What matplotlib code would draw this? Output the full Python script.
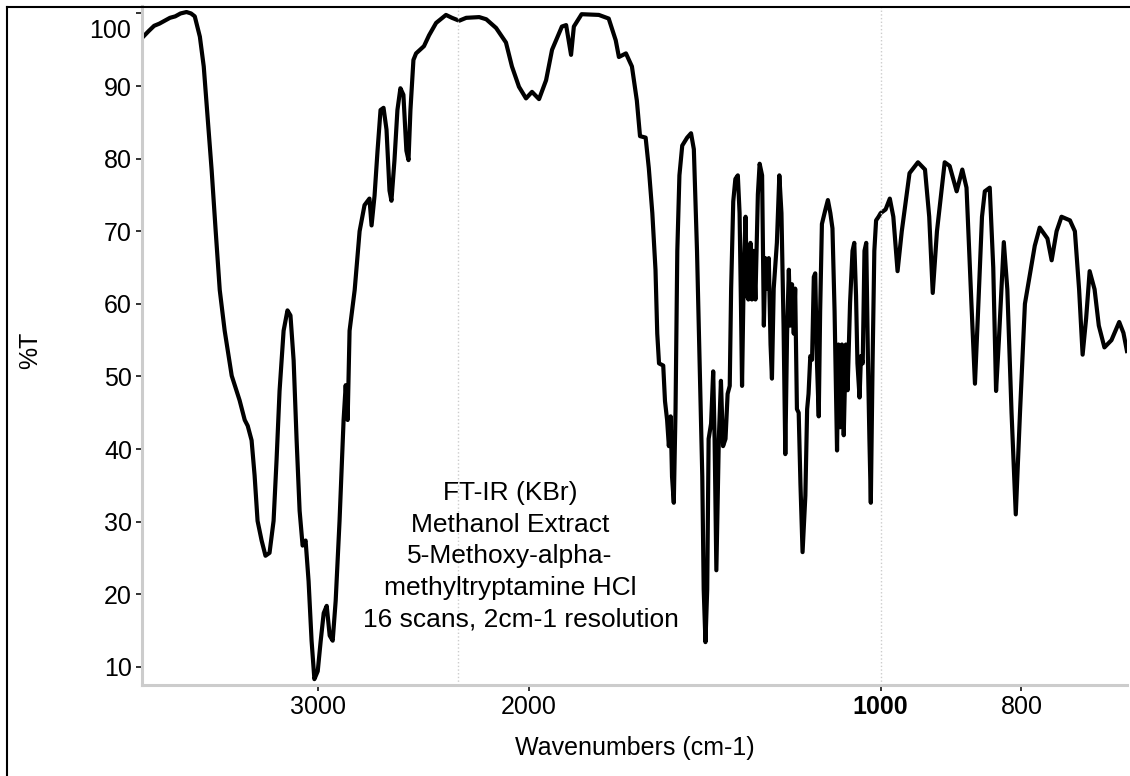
import numpy as np
import matplotlib.pyplot as plt
from matplotlib.lines import Line2D

plt.rcParams['font.family'] = ['Liberation Sans', 'DejaVu Sans']

# spectrum as (cm-1, %T) pairs, one list per axis segment
high_region = [
    (3992, 96.8), (3960, 97.6), (3930, 98.3), (3900, 98.6), (3870, 99.0), (3840, 99.4),
    (3810, 99.6), (3780, 100.0), (3746, 100.2), (3720, 100.0), (3699, 99.6), (3670, 96.8),
    (3648, 92.7), (3625, 85.3), (3603, 78.4), (3580, 70.0), (3557, 61.9), (3529, 56.3),
    (3489, 50.1), (3444, 46.7), (3415, 44.0), (3398, 43.2), (3376, 41.2), (3359, 36.4),
    (3342, 30.1), (3319, 27.4), (3297, 25.3), (3274, 25.7), (3251, 30.1), (3234, 38.5),
    (3217, 48.0), (3194, 56.3), (3172, 59.1), (3155, 58.4), (3137, 52.2), (3120, 41.2),
    (3103, 31.5), (3086, 26.7), (3069, 27.4), (3052, 21.8), (3035, 13.6), (3019, 8.3),
    (3000, 9.4), (2983, 13.6), (2966, 17.4), (2949, 18.4), (2932, 14.3), (2915, 13.6),
    (2898, 19.1), (2876, 30.1), (2853, 44.0), (2841, 48.8), (2830, 44.0), (2819, 56.3),
    (2790, 61.9), (2762, 70.0), (2734, 73.6), (2706, 74.5), (2694, 70.8), (2677, 74.9),
    (2660, 81.1), (2643, 86.7), (2626, 87.0), (2609, 84.0), (2592, 75.6), (2581, 74.2),
    (2564, 79.7), (2547, 86.7), (2530, 89.7), (2513, 88.8), (2496, 81.1), (2484, 79.8),
    (2473, 86.7), (2456, 93.6), (2441, 94.5), (2396, 95.5), (2367, 97.0), (2327, 98.7),
    (2271, 99.8), (2237, 99.4),
]
mid_region = [
    (2198, 99.0), (2178, 99.4), (2141, 99.5), (2121, 99.2), (2093, 98.0), (2065, 96.0),
    (2048, 92.7), (2028, 89.9), (2008, 88.3), (1991, 89.2), (1971, 88.2), (1951, 90.8),
    (1934, 95.0), (1906, 98.2), (1894, 98.4), (1880, 94.3), (1872, 98.2), (1850, 99.9),
    (1801, 99.8), (1773, 99.3), (1753, 96.3), (1744, 94.0), (1724, 94.5), (1707, 92.7),
    (1693, 88.0), (1684, 83.1), (1668, 82.9), (1659, 78.7), (1649, 72.5), (1640, 64.7),
    (1635, 55.9), (1630, 51.8), (1618, 51.5), (1613, 46.6), (1607, 44.0), (1602, 40.4),
    (1597, 44.5), (1593, 36.2), (1588, 32.6), (1583, 45.5), (1578, 67.3), (1572, 77.7),
    (1564, 81.8), (1550, 82.9), (1539, 83.5), (1531, 81.3), (1522, 67.3), (1512, 46.6),
    (1507, 36.2), (1503, 20.7), (1498, 13.4), (1493, 20.7), (1489, 41.4), (1482, 43.5),
    (1476, 50.7), (1472, 41.4), (1467, 23.3), (1460, 41.4), (1454, 49.4), (1448, 40.4),
    (1441, 41.4), (1435, 47.6), (1429, 48.7), (1425, 62.1), (1419, 74.1), (1413, 77.2),
    (1406, 77.7), (1401, 72.5), (1397, 59.5), (1394, 48.7), (1389, 64.7), (1384, 72.0),
    (1380, 61.1), (1376, 60.6), (1370, 68.4), (1366, 60.6), (1361, 67.3), (1356, 60.6),
    (1349, 75.1), (1344, 79.3), (1337, 77.7), (1332, 57.0), (1328, 66.3), (1323, 62.1),
    (1318, 66.3), (1313, 54.4), (1309, 49.7), (1304, 62.1), (1295, 68.4), (1288, 77.7),
    (1282, 72.5), (1276, 57.0), (1271, 39.3), (1266, 55.9), (1261, 64.7), (1257, 57.0),
    (1252, 62.7), (1247, 55.9), (1243, 62.1), (1238, 45.5), (1233, 45.0), (1228, 35.2),
    (1222, 25.8), (1214, 33.6), (1209, 45.5), (1205, 47.6), (1200, 52.8), (1195, 52.3),
    (1190, 63.7), (1186, 64.2), (1181, 51.8), (1176, 44.5), (1172, 59.0), (1167, 71.0),
    (1157, 73.0), (1150, 74.3), (1143, 72.5), (1137, 70.4), (1131, 59.0), (1124, 39.8),
    (1120, 54.4), (1115, 43.0), (1110, 54.4), (1105, 41.9), (1099, 54.4), (1094, 48.1),
    (1087, 60.1), (1080, 67.3), (1075, 68.4), (1070, 61.1), (1066, 51.8), (1060, 47.1),
    (1056, 52.8), (1051, 51.8), (1046, 67.3), (1041, 68.4), (1036, 51.8), (1032, 41.4),
    (1028, 32.6), (1023, 51.8), (1018, 67.3), (1013, 71.5), (1006, 72.0),
]
low_region = [
    (1000, 72.5), (993, 73.0), (987, 74.5), (982, 72.0), (976, 64.5), (970, 70.0),
    (959, 78.0), (947, 79.5), (937, 78.5), (931, 72.0), (926, 61.5), (920, 70.0),
    (909, 79.5), (902, 79.0), (892, 75.5), (884, 78.5), (878, 76.0), (871, 60.0),
    (866, 49.0), (862, 58.0), (856, 72.0), (852, 75.5), (845, 76.0), (840, 65.0),
    (836, 48.0), (832, 55.0), (825, 68.5), (820, 62.0), (814, 45.0), (808, 31.0),
    (802, 45.0), (795, 60.0), (781, 68.0), (774, 70.5), (763, 69.0), (757, 66.0),
    (750, 70.0), (743, 72.0), (731, 71.5), (724, 70.0), (718, 62.0), (713, 53.0),
    (708, 58.0), (703, 64.5), (696, 62.0), (690, 57.0), (682, 54.0), (672, 55.0),
    (661, 57.5), (655, 56.0), (650, 53.5),
]

major_ticks = [3000, 2000, 1000, 800]
major_labels = ['3000', '2000', '1000', '800']
minor_ticks = [3750, 3500, 3250, 2750, 2500, 2250, 1750, 1500, 1250,
               960, 920, 880, 840, 760, 720, 680]
y_ticks = [10, 20, 30, 40, 50, 60, 70, 80, 90, 100]
note_lines = ['FT-IR (KBr)', 'Methanol Extract', '5-Methoxy-alpha-', 'methyltryptamine HCl']
note_last = '16 scans, 2cm-1 resolution'


# x axis: 4000-2200 at 1x, 2200-1000 at 2x, below 1000 at 4x
def fwd(w):
    w = np.asarray(w, dtype=float)
    return np.where(w >= 2200, w, np.where(w >= 1000, 2 * w - 2200, 4 * w - 4200))


def inv(u):
    u = np.asarray(u, dtype=float)
    return np.where(u >= 2200, u, np.where(u >= -200, (u + 2200) / 2, (u + 4200) / 4))


spectrum = np.array(high_region + mid_region + low_region)
wavenumber = spectrum[:, 0]
transmittance = spectrum[:, 1]

fig = plt.figure(figsize=(11.3, 7.76), dpi=100)
ax = fig.add_axes([0.1255, 0.1173, 0.8718, 0.8747])

ax.plot(wavenumber, transmittance, color='black', linewidth=3.0, solid_joinstyle='round')

ax.set_xscale('function', functions=(fwd, inv))
ax.set_xlim(4000, 650)
ax.set_ylim(7.5, 101)

ax.axvline(2200, color='#cccccc', linestyle=':', linewidth=1)
ax.axvline(1000, color='#cccccc', linestyle=':', linewidth=1)

ax.set_xticks(major_ticks)
ax.set_xticklabels(major_labels, fontsize=18)
ax.get_xticklabels()[2].set_fontweight('bold')
ax.set_xticks(minor_ticks, minor=True)
ax.set_yticks(y_ticks)
ax.set_yticklabels([str(v) for v in y_ticks[:-1]] + [''], fontsize=18)
ax.set_yticks(np.arange(7.5, 101, 2.5), minor=True)
ax.annotate('100', xy=(0, 100), xycoords=('axes fraction', 'data'), xytext=(-11, -18),
            textcoords='offset pixels', ha='right', va='center', fontsize=18)

ax.tick_params(axis='both', which='major', direction='out', length=4, width=1.3,
               color='#222222', pad=3)
ax.tick_params(axis='both', which='minor', direction='inout', length=2, width=1.3,
               color='#333333')

for side in ['top', 'right']:
    ax.spines[side].set_visible(False)
for side in ['left', 'bottom']:
    ax.spines[side].set_color('#cccccc')
    ax.spines[side].set_linewidth(2.2)

ax.set_xlabel('Wavenumbers (cm-1)', fontsize=18, va='center')
ax.xaxis.set_label_coords(0.5, -0.0928)
ax.set_ylabel('%T', fontsize=18, va='center')
ax.yaxis.set_label_coords(-0.1135, 0.4936)

for i, line in enumerate(note_lines):
    fig.text(510 / 1130, 1 - (493 + 31.5 * i) / 776, line, ha='center', va='center', fontsize=19)
fig.text(363 / 1130, 1 - 619 / 776, note_last, ha='left', va='center', fontsize=19)

# frame drawn around the figure
fig.add_artist(Line2D([7 / 1130, 1], [1 - 7 / 776, 1 - 7 / 776], color='black', linewidth=1.5))
fig.add_artist(Line2D([7 / 1130, 7 / 1130], [0, 1 - 7 / 776], color='black', linewidth=1.5))

plt.savefig('out.png', dpi=100)
